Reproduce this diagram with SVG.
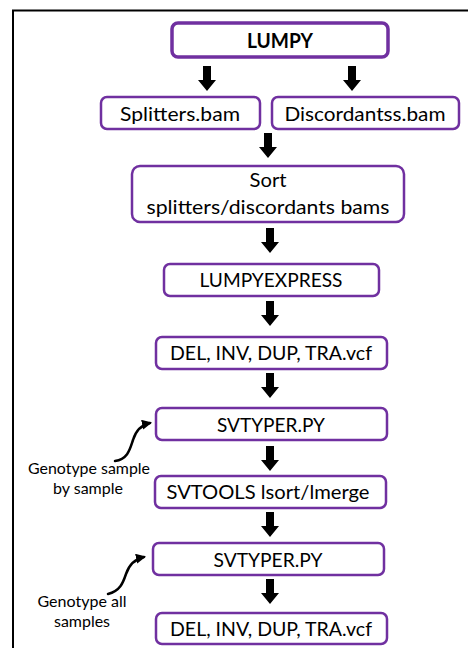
<svg xmlns="http://www.w3.org/2000/svg" width="468" height="648" viewBox="0 0 468 648">
  <style>
    .box { fill: #ffffff; stroke: #7030A0; stroke-width: 2.5; }
    .box-main { fill: #ffffff; stroke: #7030A0; stroke-width: 3.5; }
    .lbl { font-family: Lato, "Liberation Sans", sans-serif; font-size: 20px; fill: #000000; text-anchor: middle; }
    .bold { font-weight: bold; }
    .note { font-family: Lato, "Liberation Sans", sans-serif; font-size: 15px; fill: #000000; text-anchor: middle; }
    .curve { fill: none; stroke: #000000; stroke-width: 2.5; stroke-linecap: round; }
  </style>
  <defs>
    <!-- solid block arrow pointing down, tip at (0,25) -->
    <path id="blk" d="M-4,0 H4 V14 H9 L0,25 L-9,14 H-4 Z" fill="#000000"/>
    <marker id="tip" viewBox="0 0 10 10" refX="8" refY="5" markerWidth="4" markerHeight="4" orient="auto" markerUnits="strokeWidth">
      <path d="M0,0 L10,5 L0,10 Z" fill="#000000"/>
    </marker>
  </defs>

  <rect width="468" height="648" fill="#ffffff"/>
  <!-- outer frame -->
  <rect x="13" y="10.5" width="520" height="700" fill="none" stroke="#000000" stroke-width="2"/>

  <g id="connectors">
    <use href="#blk" x="207" y="66"/>
    <use href="#blk" x="352" y="66"/>
    <use href="#blk" x="268" y="133"/>
    <use href="#blk" x="270" y="228"/>
    <use href="#blk" x="270" y="301"/>
    <use href="#blk" x="270" y="373"/>
    <use href="#blk" x="270" y="446"/>
    <use href="#blk" x="270" y="512"/>
    <use href="#blk" x="270" y="579"/>
    <path class="curve" d="M115,461 C128,459 130,449 133,440 C136,430 141,425 150,423" marker-end="url(#tip)"/>
    <path class="curve" d="M108,594 C120,591 123,583 126,574 C129,565 135,559 144,557" marker-end="url(#tip)"/>
  </g>

  <g id="lumpy">
    <rect class="box-main" x="172" y="23" width="216" height="34" rx="6"/>
    <text class="lbl bold" x="280" y="48" textLength="66" lengthAdjust="spacingAndGlyphs">LUMPY</text>
  </g>
  <g id="splitters">
    <rect class="box" x="101" y="97" width="159" height="32" rx="6"/>
    <text class="lbl" x="180" y="121" textLength="120" lengthAdjust="spacingAndGlyphs">Splitters.bam</text>
  </g>
  <g id="discordants">
    <rect class="box" x="272" y="97" width="187" height="32" rx="6"/>
    <text class="lbl" x="365" y="121" textLength="161" lengthAdjust="spacingAndGlyphs">Discordantss.bam</text>
  </g>
  <g id="sort">
    <rect class="box" x="132" y="166" width="272" height="56" rx="8"/>
    <text class="lbl" x="268" y="187" textLength="37" lengthAdjust="spacingAndGlyphs">Sort</text>
    <text class="lbl" x="268" y="214" textLength="243" lengthAdjust="spacingAndGlyphs">splitters/discordants bams</text>
  </g>
  <g id="lumpyexpress">
    <rect class="box" x="164" y="264" width="215" height="32" rx="6"/>
    <text class="lbl" x="271" y="287" textLength="143" lengthAdjust="spacingAndGlyphs">LUMPYEXPRESS</text>
  </g>
  <g id="vcf1">
    <rect class="box" x="156" y="337" width="231" height="32" rx="6"/>
    <text class="lbl" x="271" y="360" textLength="202" lengthAdjust="spacingAndGlyphs">DEL, INV, DUP, TRA.vcf</text>
  </g>
  <g id="svtyper1">
    <rect class="box" x="156" y="408" width="231" height="32" rx="6"/>
    <text class="lbl" x="271" y="432" textLength="108" lengthAdjust="spacingAndGlyphs">SVTYPER.PY</text>
  </g>
  <g id="svtools">
    <rect class="box" x="155" y="476" width="231" height="32" rx="6"/>
    <text class="lbl" x="268" y="499" textLength="203" lengthAdjust="spacingAndGlyphs">SVTOOLS lsort/lmerge</text>
  </g>
  <g id="svtyper2">
    <rect class="box" x="153" y="543" width="231" height="32" rx="6"/>
    <text class="lbl" x="268" y="567" textLength="109" lengthAdjust="spacingAndGlyphs">SVTYPER.PY</text>
  </g>
  <g id="vcf2">
    <rect class="box" x="156" y="613" width="231" height="31" rx="6"/>
    <text class="lbl" x="271" y="636" textLength="202" lengthAdjust="spacingAndGlyphs">DEL, INV, DUP, TRA.vcf</text>
  </g>

  <g id="note-sample">
    <text class="note" x="89" y="474" textLength="122" lengthAdjust="spacingAndGlyphs">Genotype sample</text>
    <text class="note" x="88" y="494" textLength="70" lengthAdjust="spacingAndGlyphs">by sample</text>
  </g>
  <g id="note-all">
    <text class="note" x="82" y="607" textLength="89" lengthAdjust="spacingAndGlyphs">Genotype all</text>
    <text class="note" x="82" y="627" textLength="56" lengthAdjust="spacingAndGlyphs">samples</text>
  </g>
</svg>
